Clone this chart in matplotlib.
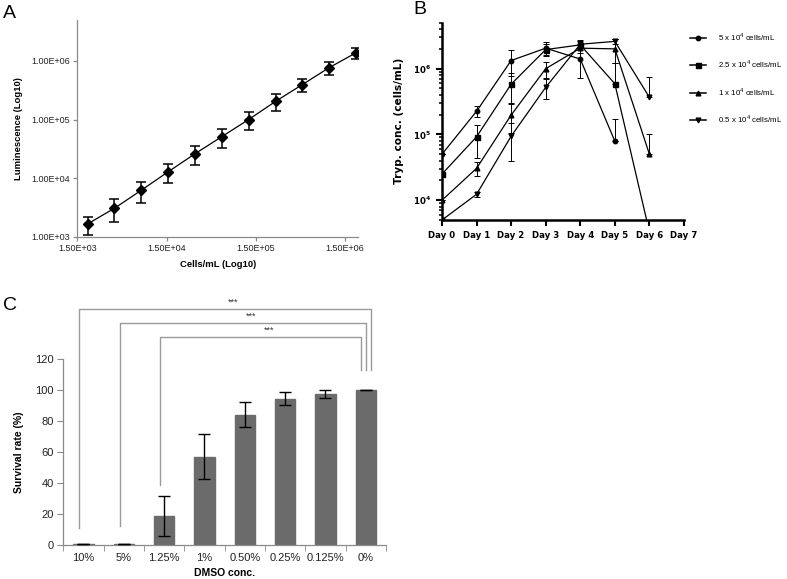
import matplotlib
matplotlib.use('Agg')
import matplotlib.pyplot as plt
import numpy as np
from matplotlib.ticker import NullLocator, LogLocator, FixedLocator
from matplotlib.lines import Line2D

plt.rcParams['font.family'] = ['Liberation Sans', 'DejaVu Sans']
plt.rcParams['mathtext.fontset'] = 'custom'
plt.rcParams['mathtext.rm'] = 'Liberation Sans'
plt.rcParams['mathtext.bf'] = 'DejaVu Sans:bold'

# Panel A: luminescence standard curve
cells_ml = [1953, 3906, 7813, 15625, 31250, 62500, 125000, 250000, 500000, 1000000, 2000000]
lum = [1650, 3050, 6200, 12800, 26000, 51000, 100000, 204000, 395000, 770000, 1380000]
lum_err = [560, 1300, 2400, 4700, 9000, 18000, 33000, 66000, 100000, 205000, 310000]
a_xticks = [1.5e3, 1.5e4, 1.5e5, 1.5e6]
a_xticklabels = ['1.50E+03', '1.50E+04', '1.50E+05', '1.50E+06']
a_yticks = [1e3, 1e4, 1e5, 1e6]
a_yticklabels = ['1.00E+03', '1.00E+04', '1.00E+05', '1.00E+06']

# Panel B: growth curves (NaN = no data)
days = [0, 1, 2, 3, 4, 5, 6]
day_labels = ['Day 0', 'Day 1', 'Day 2', 'Day 3', 'Day 4', 'Day 5', 'Day 6', 'Day 7']
b_labels = ['5 x 10$^{4}$ cells/mL', '2.5 x 10$^{4}$ cells/mL',
            '1 x 10$^{4}$ cells/mL', '0.5 x 10$^{4}$ cells/mL']
conc_5 = [5.0e4, 2.25e5, 1.33e6, 2.05e6, 1.4e6, 7.9e4, np.nan]
conc_5_sd = [0, 4.2e4, 5.6e5, 4.5e5, 6.7e5, 9.4e4, np.nan]
conc_25 = [2.5e4, 9.2e4, 5.8e5, 1.95e6, 2.3e6, 5.9e5, 3.3e3]
conc_25_sd = [0, 4.8e4, 2.8e5, 4.0e5, 4.0e5, 6.3e5, 0]
conc_1 = [1.0e4, 3.05e4, 1.97e5, 1.0e6, 2.05e6, 2.0e6, 5.0e4]
conc_1_sd = [0, 7.5e3, 9.0e4, 2.7e5, 3.0e5, 7.8e5, 5.0e4]
conc_05 = [5.0e3, 1.23e4, 9.4e4, 5.2e5, 2.35e6, 2.6e6, 3.67e5]
conc_05_sd = [0, 1.0e3, 5.5e4, 1.8e5, 3.0e5, 2.0e5, 3.9e5]

# Panel C: DMSO survival
dmso = ['10%', '5%', '1.25%', '1%', '0.50%', '0.25%', '0.125%', '0%']
survival = [0.4, 0.4, 18.5, 57, 84, 94.5, 97.5, 100]
survival_err = [0, 0, 13, 14.5, 8, 4.3, 2.4, 0.3]
# significance brackets: (left category, right category, stars)
sig_pairs = [(0, 7, '***'), (1, 7, '***'), (2, 7, '***')]

fig = plt.figure(figsize=(7.87, 5.79), dpi=100)

# ---------------- A ----------------
ax_a = fig.add_axes([0.0982, 0.5912, 0.3567, 0.3743])
ax_a.set_xscale('log')
ax_a.set_yscale('log')
ax_a.errorbar(cells_ml, lum, yerr=lum_err, fmt='none', ecolor='black',
              elinewidth=1.1, capsize=3.5, capthick=1.1)
ax_a.plot(cells_ml, lum, color='black', lw=0.9, marker='D', ms=5, mfc='black')
ax_a.set_xlim(1500, 2.1e6)
ax_a.set_ylim(1e3, 5e6)
ax_a.xaxis.set_major_locator(FixedLocator(a_xticks))
ax_a.set_xticklabels(a_xticklabels)
ax_a.yaxis.set_major_locator(FixedLocator(a_yticks))
ax_a.set_yticklabels(a_yticklabels)
ax_a.xaxis.set_minor_locator(NullLocator())
ax_a.yaxis.set_minor_locator(NullLocator())
for s in ['top', 'right']:
    ax_a.spines[s].set_visible(False)
for s in ['left', 'bottom']:
    ax_a.spines[s].set_color('#8a8a8a')
    ax_a.spines[s].set_linewidth(0.9)
ax_a.tick_params(direction='out', length=3, width=0.9, color='#8a8a8a',
                 labelsize=6.5, labelcolor='#222222', pad=2)
ax_a.set_xlabel('Cells/mL (Log10)', fontsize=6.8, fontweight='bold', labelpad=5)
ax_a.set_ylabel('Luminescence (Log10)', fontsize=6.8, fontweight='bold', labelpad=6)
fig.text(3 / 787, 1 - 5 / 579, 'A', fontsize=14, va='top', ha='left')

# ---------------- B ----------------
ax_b = fig.add_axes([0.5616, 0.620, 0.3075, 0.3408])
ax_b.set_yscale('log')
series = [(conc_5, conc_5_sd, 'o', 3.2), (conc_25, conc_25_sd, 's', 3.6),
          (conc_1, conc_1_sd, '^', 3.4), (conc_05, conc_05_sd, 'v', 3.4)]
handles = []
for (vals, sd, mk, ms), lab in zip(series, b_labels):
    v = np.array(vals)
    e = np.array(sd)
    lower = np.where(v - e > 0, e, 0)
    ax_b.errorbar(days, v, yerr=[lower, e], fmt='none', ecolor='black',
                  elinewidth=0.7, capsize=2, capthick=0.7)
    ax_b.plot(days, v, color='black', lw=0.9, marker=mk, ms=ms)
    handles.append(Line2D([], [], color='black', lw=1.1, marker=mk, ms=ms, label=lab))
ax_b.set_xlim(0, 7)
ax_b.set_ylim(5e3, 5e6)
ax_b.set_xticks(range(len(day_labels)))
ax_b.set_xticklabels(day_labels, fontsize=6.2, fontweight='bold', family='DejaVu Sans')
ax_b.yaxis.set_major_locator(FixedLocator([1e4, 1e5, 1e6]))
ax_b.set_yticklabels([r'$\mathbf{10^{4}}$', r'$\mathbf{10^{5}}$', r'$\mathbf{10^{6}}$'], fontsize=6.2)
ax_b.yaxis.set_minor_locator(LogLocator(base=10, subs=np.arange(2, 10), numticks=20))
for s in ['top', 'right']:
    ax_b.spines[s].set_visible(False)
for s in ['left', 'bottom']:
    ax_b.spines[s].set_linewidth(1.8)
ax_b.tick_params(which='major', direction='out', length=4, width=1.5, pad=4)
ax_b.tick_params(which='minor', direction='out', length=2.5, width=1.1)
ax_b.set_ylabel('Tryp. conc. (cells/mL)', fontsize=7.6, fontweight='bold',
                family='DejaVu Sans', labelpad=6)
ax_b.legend(handles=handles, loc='upper left', bbox_to_anchor=(686 / 787, 1 - 27 / 579),
            bbox_transform=fig.transFigure, frameon=False, fontsize=5.7,
            labelspacing=1.95, handlelength=2.0, handletextpad=1.5, borderpad=0)
fig.text(413 / 787, 1 - 1 / 579, 'B', fontsize=14, va='top', ha='left')

# ---------------- C ----------------
ax_c = fig.add_axes([0.0804, 0.0587, 0.410, 0.3212])
xc = np.arange(len(dmso))
ax_c.bar(xc, survival, width=0.5, color='#6b6b6b', edgecolor='#6b6b6b', zorder=2)
ax_c.errorbar(xc, survival, yerr=survival_err, fmt='none', ecolor='black',
              elinewidth=1.0, capsize=4, capthick=1.0, zorder=3)
ax_c.set_xlim(-0.5, len(dmso) - 0.5)
ax_c.set_ylim(0, 120)
ax_c.set_yticks(range(0, 121, 20))
ax_c.set_xticks(xc)
ax_c.set_xticklabels(dmso)
ax_c.xaxis.set_minor_locator(FixedLocator(np.arange(len(dmso) + 1) - 0.5))
for s in ['top', 'right']:
    ax_c.spines[s].set_visible(False)
for s in ['left', 'bottom']:
    ax_c.spines[s].set_color('#8a8a8a')
    ax_c.spines[s].set_linewidth(0.9)
ax_c.tick_params(axis='x', which='major', length=0, pad=6)
ax_c.tick_params(axis='x', which='minor', direction='out', length=4, color='#8a8a8a')
ax_c.tick_params(axis='y', direction='out', length=4, color='#8a8a8a', pad=3)
ax_c.tick_params(labelsize=8, labelcolor='#222222')
ax_c.set_xlabel('DMSO conc.', fontsize=7.5, fontweight='bold', labelpad=3)
ax_c.set_ylabel('Survival rate (%)', fontsize=7.5, fontweight='bold', labelpad=8)

# brackets drawn above the axes
bracket_tops = [152, 143.5, 134.5]
left_bottoms = [11, 12, 39]
right_offsets = [0.12, 0.0, -0.11]
for (i, j, stars), top, lb, ro in zip(sig_pairs, bracket_tops, left_bottoms, right_offsets):
    xl = xc[i] - 0.1
    xr = xc[j] + ro
    ax_c.plot([xl, xl, xr, xr], [lb, top, top, 113], color='#9a9a9a', lw=1.0,
              clip_on=False)
    ax_c.text((xl + xr) / 2 + 0.2, top + 1.5, stars, fontsize=6.5, ha='center',
              va='bottom', color='#333333')
fig.text(3 / 787, 1 - 297 / 579, 'C', fontsize=14, va='top', ha='left')

fig.savefig('out.png', dpi=100)
